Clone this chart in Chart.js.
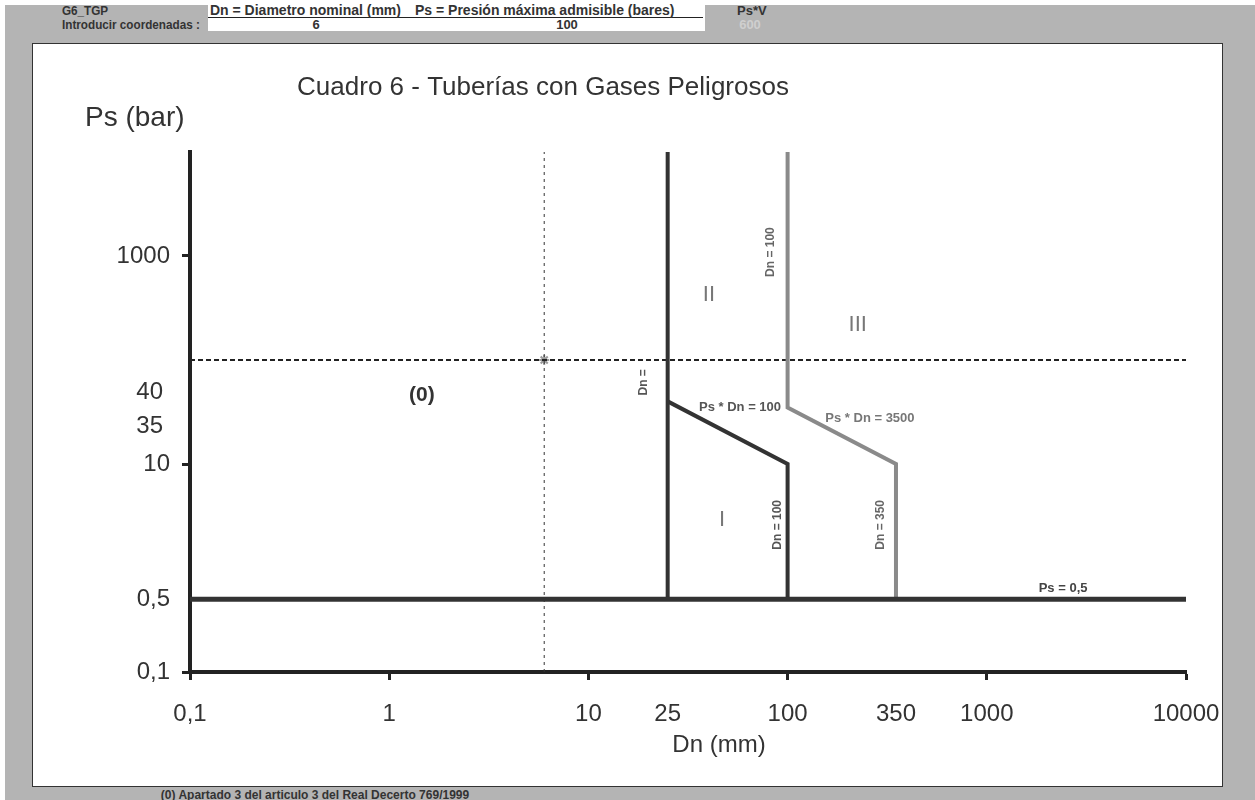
<!DOCTYPE html>
<html><head><meta charset="utf-8">
<script src="https://cdn.jsdelivr.net/npm/chart.js@4.4.1/dist/chart.umd.min.js"></script>
<style>
html,body{margin:0;padding:0;background:#fff;width:1255px;height:800px;overflow:hidden;font-family:'Liberation Sans',Arial,sans-serif;}
#sheet{position:absolute;left:5px;top:5px;width:1250px;height:795px;background:#b4b4b4;}
#white{position:absolute;left:208px;top:5px;width:497px;height:26px;background:#fff;}
#rule{position:absolute;left:208px;top:17px;width:495px;height:1px;background:#222;}
.h{position:absolute;font-weight:bold;font-size:14px;color:#333;white-space:nowrap;line-height:12px;font-family:'Liberation Sans',Arial,sans-serif;}
.c{transform:translateX(-50%);}
#frame{position:absolute;left:32px;top:43px;width:1189px;height:742px;background:#fff;border:1px solid #333;}
#frame canvas{position:absolute;left:0;top:0;}
</style>
</head><body>
<div id="sheet"></div>
<div id="white"></div>
<div id="rule"></div>
<div class="h" style="left:62px;top:5px;font-size:13px;transform:scaleX(0.9);transform-origin:left;">G6_TGP</div>
<div class="h" style="left:62px;top:19px;font-size:13px;transform:scaleX(0.9);transform-origin:left;">Introducir coordenadas :</div>
<div class="h" style="left:210px;top:4px;">Dn = Diametro nominal (mm)</div>
<div class="h" style="left:415px;top:4px;">Ps = Presión máxima admisible (bares)</div>
<div class="h" style="left:737px;top:5px;font-size:13px;">Ps*V</div>
<div class="h c" style="left:316px;top:19px;font-size:13px;">6</div>
<div class="h c" style="left:567px;top:19px;font-size:13px;">100</div>
<div class="h c" style="left:750px;top:19px;font-size:13px;color:#cfcfcf;">600</div>
<div id="frame"><canvas id="chart" width="1189" height="742"></canvas></div>
<div class="h c" style="left:315px;top:789px;font-size:12px;">(0) Apartado 3 del articulo 3 del Real Decerto 769/1999</div>
<script>
// ---- data ----
const dnTickValues = [0.1, 1, 10, 25, 100, 350, 1000, 10000];
const dnMarkedTicks = [0.1, 1, 10, 100, 1000, 10000];
const psTickValues = [0.1, 0.5, 10, 1000];
const psMarkedTicks = [0.1, 10, 1000];
const psExtraLabels = [40, 35];

const limitPs05Dn = [0.1, 10000];
const limitPs05Ps = [0.5, 0.5];
const limitDn25Dn = [25, 25];
const limitDn25Ps = [10000, 0.5];
const limitCat1Dn = [25, 100, 100];
const limitCat1Ps = [40, 10, 0.5];
const limitCat3Dn = [100, 100, 350, 350];
const limitCat3Ps = [10000, 35, 10, 0.5];
const inputDn = [6];
const inputPs = [100];
const guideHDn = [0.1, 10000];
const guideHPs = [100, 100];
const guideVDn = [6, 6];
const guideVPs = [0.1, 10000];

const annoText = ['(0)', 'I', 'II', 'III', 'Dn = 100', 'Dn =', 'Dn = 100', 'Dn = 350', 'Ps * Dn = 100', 'Ps * Dn = 3500', 'Ps = 0,5'];
const annoDn = [1.46, 46.9, 40.3, 225, 82.6, 19, 89.5, 294, 57.7, 259, 2415];
const annoPs = [46, 2.9, 422, 217, 1090, 61, 2.6, 2.6, 35.3, 27.7, 0.63];

// ---- styles ----
const annoStyle = [
  {font:'bold 21px "Liberation Sans"', color:'#333', rot:false},
  {font:'22px "Liberation Sans"', color:'#777', rot:false},
  {font:'22px "Liberation Sans"', color:'#777', rot:false},
  {font:'22px "Liberation Sans"', color:'#777', rot:false},
  {font:'bold 12px "Liberation Sans"', color:'#666', rot:true},
  {font:'bold 12px "Liberation Sans"', color:'#555', rot:true},
  {font:'bold 12px "Liberation Sans"', color:'#555', rot:true},
  {font:'bold 12px "Liberation Sans"', color:'#666', rot:true},
  {font:'bold 13px "Liberation Sans"', color:'#555', rot:false},
  {font:'bold 13px "Liberation Sans"', color:'#777', rot:false},
  {font:'bold 13px "Liberation Sans"', color:'#444', rot:false}
];
const extraLabelOffset = [-9, 19];

const pts = (xs, ys) => xs.map((x, i) => ({x: x, y: ys[i]}));
const fmt = v => String(v).replace('.', ',');
const DARK = '#333333', GREY = '#8a8a8a';

Chart.defaults.font.family = "'Liberation Sans', Arial, sans-serif";
Chart.defaults.color = '#333';

const textPlugin = {
  id: 'texts',
  afterDatasetsDraw(chart) {
    const ctx = chart.ctx, x = chart.scales.x, y = chart.scales.y;
    ctx.save();
    ctx.textAlign = 'center';
    ctx.textBaseline = 'middle';
    annoText.forEach((t, i) => {
      const st = annoStyle[i];
      const px = x.getPixelForValue(annoDn[i]), py = y.getPixelForValue(annoPs[i]);
      ctx.font = st.font; ctx.fillStyle = st.color;
      if (st.rot) {
        ctx.save(); ctx.translate(px, py); ctx.rotate(-Math.PI / 2);
        ctx.fillText(t, 0, 0); ctx.restore();
      } else {
        ctx.fillText(t, px, py);
      }
    });
    ctx.font = '24px "Liberation Sans"'; ctx.fillStyle = '#333'; ctx.textAlign = 'right';
    psExtraLabels.forEach((v, i) => {
      ctx.fillText(fmt(v), chart.chartArea.left - 27, y.getPixelForValue(v) + extraLabelOffset[i]);
    });
    ctx.textAlign = 'center';
    ctx.font = '26px "Liberation Sans"'; ctx.fillStyle = '#333';
    ctx.fillText('Cuadro 6 - Tuberías con Gases Peligrosos', 510, 44);
    ctx.textAlign = 'left';
    ctx.font = '28px "Liberation Sans"';
    ctx.fillText('Ps (bar)', 52, 74);
    ctx.textAlign = 'center';
    ctx.font = '24px "Liberation Sans"';
    ctx.fillText('Dn (mm)', 686, 701);
    ctx.restore();
  }
};

const lineDs = (data, color, width, dash) => ({
  data: data, showLine: true, pointRadius: 0, borderColor: color, backgroundColor: color,
  borderWidth: width, borderDash: dash || [], fill: false, clip: false, tension: 0
});

new Chart(document.getElementById('chart'), {
  type: 'scatter',
  data: {
    datasets: [
      lineDs(pts(limitPs05Dn, limitPs05Ps), DARK, 5),
      lineDs(pts(limitDn25Dn, limitDn25Ps), DARK, 4),
      lineDs(pts(limitCat1Dn, limitCat1Ps), DARK, 4),
      lineDs(pts(limitCat3Dn, limitCat3Ps), GREY, 4),
      lineDs(pts(guideHDn, guideHPs), '#222', 2, [5, 3]),
      lineDs(pts(guideVDn, guideVPs), '#333', 1, [3, 4]),
      {data: pts(inputDn, inputPs), pointStyle: 'star', pointRadius: 5, borderColor: '#999', borderWidth: 2, backgroundColor: '#999'}
    ]
  },
  options: {
    responsive: false, animation: false, devicePixelRatio: 1,
    layout: {padding: {top: 108, right: 36, left: 0, bottom: 0}},
    plugins: {legend: {display: false}, tooltip: {enabled: false}, title: {display: false}},
    scales: {
      x: {
        type: 'logarithmic', min: 0.1, max: 10000,
        afterBuildTicks: s => { s.ticks = dnTickValues.map(v => ({value: v})); },
        afterFit: s => { s.height = 114; s.paddingLeft = 0; s.paddingRight = 0; },
        ticks: {autoSkip: false, maxRotation: 0, padding: 20, font: {size: 24}, color: '#333', callback: v => fmt(v)},
        grid: {display: true, drawOnChartArea: false, drawTicks: true, tickLength: 8, tickWidth: 3,
               tickColor: c => dnMarkedTicks.includes(c.tick && c.tick.value) ? '#222' : 'rgba(0,0,0,0)'},
        border: {display: true, width: 4, color: '#222'}
      },
      y: {
        type: 'logarithmic', min: 0.1, max: 10000,
        afterBuildTicks: s => { s.ticks = psTickValues.map(v => ({value: v})); },
        afterFit: s => { s.width = 157; s.paddingTop = 0; s.paddingBottom = 0; },
        ticks: {autoSkip: false, padding: 12, font: {size: 24}, color: '#333', callback: v => fmt(v)},
        grid: {display: true, drawOnChartArea: false, drawTicks: true, tickLength: 8, tickWidth: 3,
               tickColor: c => psMarkedTicks.includes(c.tick && c.tick.value) ? '#222' : 'rgba(0,0,0,0)'},
        border: {display: true, width: 4, color: '#222'}
      }
    }
  },
  plugins: [textPlugin]
});
</script>
</body></html>
